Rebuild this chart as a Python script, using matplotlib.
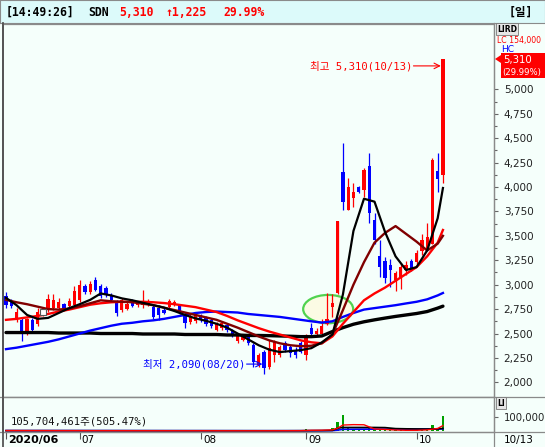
import matplotlib
matplotlib.use("Agg")
import matplotlib.pyplot as plt
from matplotlib.patches import Ellipse, Polygon, Rectangle
from matplotlib.lines import Line2D
import numpy as np

# ---- values ----
stock = "SDN"
clock = "14:49:26"
last_price = 5310
change = 1225
change_pct = 29.99
upper_limit_text = "LC 154,000"

# daily candles, 2020-06-11 .. 2020-10-13 (trading days)
opens = [2880, 2820, 2640, 2640, 2520, 2640, 2600, 2700, 2740, 2760, 2760, 2800, 2780, 2790,
         2840, 2990, 2920, 3050, 2990, 2970, 2890, 2820, 2740, 2750, 2830, 2790, 2790, 2800,
         2770, 2760, 2740, 2770, 2800, 2790, 2700, 2620, 2630,
         2680, 2660, 2640, 2540, 2560, 2590, 2530, 2420, 2430, 2470, 2380, 2180, 2310, 2160,
         2280, 2280, 2400, 2360, 2330, 2400,
         2280, 2560, 2500, 2500, 2600, 2770, 2910, 4150, 3760, 3890, 4000, 3970, 4210, 3660,
         3290, 3240, 3200, 3050, 3080, 3150, 3240,
         3230, 3340, 3370, 3420, 4160, 4120]
highs = [2920, 2850, 2760, 2660, 2660, 2660, 2760, 2760, 2900, 2900, 2860, 2810, 2860, 2990,
         3050, 3010, 3040, 3080, 3010, 2990, 2910, 2840, 2860, 2820, 2850, 2830, 2950, 2850,
         2790, 2790, 2760, 2850, 2840, 2800, 2720, 2700, 2710,
         2700, 2680, 2660, 2620, 2630, 2600, 2550, 2490, 2500, 2490, 2400, 2300, 2330, 2430,
         2430, 2380, 2420, 2380, 2360, 2420,
         2500, 2610, 2560, 2650, 2910, 2900, 3650, 4450, 4090, 4040, 4010, 4190, 4345, 3730,
         3460, 3280, 3260, 3140, 3220, 3240, 3260,
         3350, 3520, 3630, 4300, 4345, 5310]
lows = [2760, 2760, 2620, 2420, 2480, 2520, 2580, 2680, 2720, 2740, 2740, 2740, 2760, 2780,
        2820, 2900, 2900, 2940, 2860, 2870, 2830, 2680, 2720, 2740, 2770, 2770, 2760, 2780,
        2650, 2640, 2700, 2750, 2780, 2700, 2560, 2600, 2610,
        2620, 2580, 2560, 2530, 2540, 2520, 2460, 2400, 2420, 2380, 2160, 2160, 2090, 2140,
        2210, 2260, 2310, 2260, 2250, 2300,
        2230, 2470, 2480, 2480, 2590, 2670, 2900, 3760, 3760, 3800, 3940, 3900, 3630, 3420,
        3080, 3020, 2980, 2940, 2960, 3100, 3140,
        3200, 3300, 3350, 3420, 3950, 4040]
closes = [2790, 2780, 2720, 2500, 2650, 2540, 2720, 2740, 2850, 2840, 2820, 2760, 2830, 2940,
          3000, 2930, 3010, 2950, 2880, 2890, 2840, 2710, 2840, 2800, 2780, 2810, 2830, 2830,
          2670, 2690, 2710, 2830, 2820, 2720, 2610, 2680, 2690,
          2640, 2600, 2580, 2600, 2610, 2540, 2480, 2470, 2480, 2400, 2210, 2280, 2150, 2350,
          2410, 2360, 2330, 2300, 2280, 2310,
          2470, 2490, 2530, 2580, 2650, 2810, 3650, 3850, 4000, 3950, 3950, 4170, 3730, 3460,
          3180, 3070, 3150, 3120, 3180, 3200, 3150,
          3320, 3460, 3490, 4280, 4085, 5310]
# volume in thousand shares
volume_k = [3100, 2800, 2500, 3900, 2600, 2200, 2400, 2000, 3300, 2600, 2100, 1800, 2000, 3600,
            4200, 2700, 2900, 3100, 2400, 1900, 1800, 2300, 2100, 1700, 1600, 1500, 2600, 1700,
            2000, 1800, 1500, 1900, 1600, 1700, 2200, 1600, 1500,
            1500, 1600, 1700, 1400, 1300, 1500, 1900, 1800, 1600, 1700, 3200, 2400, 3500, 2900,
            2600, 1900, 1800, 1700, 1600, 1900,
            14000, 5000, 3500, 4500, 8000, 21000, 63000, 110000, 20000, 15000, 9000, 14000, 20000, 12000,
            9000, 7000, 6000, 5000, 5000, 4000, 4000,
            6000, 9000, 14000, 45000, 20912, 105704]
today_volume = 105704461
today_volume_ratio = 505.47

# moving averages, sampled every second candle
ma_idx = list(range(0, 83, 2)) + [83]
ma5 = [2865, 2790, 2690, 2650, 2660, 2710, 2760, 2800, 2845, 2910, 2890, 2860, 2840, 2815,
       2790, 2765, 2730, 2690, 2655, 2630, 2600, 2560, 2500, 2440, 2380, 2335, 2310, 2320,
       2330, 2350, 2410, 2490, 2900, 3550, 3880, 3850, 3540, 3290, 3150, 3180, 3350, 3680, 3990]
ma10 = [2845, 2820, 2800, 2775, 2750, 2745, 2755, 2780, 2810, 2840, 2830, 2825, 2820, 2805,
        2790, 2765, 2740, 2715, 2690, 2665, 2640, 2600, 2560, 2515, 2470, 2430, 2400, 2380,
        2370, 2375, 2400, 2490, 2740, 3000, 3230, 3430, 3530, 3600, 3520, 3440, 3350, 3420, 3500]
ma20 = [2640, 2650, 2665, 2680, 2700, 2725, 2745, 2770, 2795, 2810, 2820, 2825, 2825, 2825,
        2820, 2812, 2800, 2785, 2770, 2745, 2720, 2680, 2635, 2595, 2555, 2520, 2490, 2460,
        2430, 2410, 2400, 2470, 2600, 2720, 2840, 2910, 2970, 3040, 3110, 3180, 3290, 3430, 3560]
ma60 = [2340, 2355, 2375, 2395, 2415, 2440, 2470, 2500, 2530, 2555, 2580, 2600, 2610, 2625,
        2635, 2650, 2670, 2690, 2710, 2720, 2725, 2720, 2715, 2700, 2690, 2680, 2670, 2655,
        2640, 2625, 2612, 2625, 2670, 2710, 2745, 2760, 2775, 2790, 2808, 2825, 2850, 2890, 2915]
ma120 = [2510, 2510, 2510, 2510, 2510, 2505, 2505, 2505, 2505, 2500, 2500, 2500, 2500, 2495,
         2495, 2495, 2495, 2490, 2490, 2490, 2490, 2485, 2485, 2480, 2480, 2478, 2475, 2472,
         2468, 2468, 2475, 2520, 2560, 2595, 2620, 2640, 2658, 2675, 2690, 2705, 2725, 2760, 2780]

vol_ma_idx = [0, 10, 20, 30, 40, 50, 56, 58, 60, 62, 63, 64, 66, 68, 70, 72, 74, 76, 78, 80, 82, 83]
vol_ma5 = [3000, 2500, 2200, 2000, 1800, 1800, 2500, 5000, 5500, 8000, 20000, 42000, 45000,
           44000, 14000, 11000, 7000, 5000, 5000, 8000, 18000, 38000]
vol_ma20 = [2600, 2500, 2300, 2100, 2000, 1900, 2200, 2600, 3000, 4200, 20000, 25000, 25000,
            25000, 25000, 24000, 17000, 15500, 14500, 14000, 15000, 18000]
vol_ma60 = [2800, 2800, 2700, 2500, 2300, 2100, 2100, 2300, 2400, 2800, 6000, 12000, 12500,
            13000, 13000, 13000, 13000, 13000, 13000, 13500, 14000, 15000]

month_idx = [0, 14, 37, 57, 78]
month_lbl = ["2020/06", "07", "08", "09", "10"]
hi_date = "10/13"
lo_date = "08/20"
last_date = "10/13"
marker_idx, marker_val = 7, 2725
box_idx, box_val = 61.2, 2750   # green highlight ellipse

# ---- style ----
W, H = 545, 447
BG = "#f5fffb"
HDR = "#dcfafa"
RED = "#ff0000"
BLUE = "#0000ff"
BROWN = "#800000"
GRID = "#8a8a8a"
MONO = ["DejaVu Sans Mono", "Noto Sans CJK KR"]


def fbox(x0, y0, x1, y1):
    return [x0 / W, 1 - y1 / H, (x1 - x0) / W, (y1 - y0) / H]


def fpt(x, y):
    return x / W, 1 - y / H


fig = plt.figure(figsize=(W / 100, H / 100), dpi=100)
fig.patch.set_facecolor(BG)

# header bar
hdr = fig.add_axes(fbox(0, 0, W, 23))
hdr.set_facecolor(HDR)
hdr.set_xticks([])
hdr.set_yticks([])
for s in hdr.spines.values():
    s.set_color(GRID)
hdr_y = 12
fig.text(*fpt(6, hdr_y), f"[{clock}]", family=MONO, weight="bold", size=8.3, va="center")
fig.text(*fpt(88, hdr_y), stock, family=MONO, weight="bold", size=8.3, va="center")
fig.text(*fpt(119, hdr_y), f"{last_price:,}", family=MONO, weight="bold", size=8.3,
         va="center", color=RED)
fig.text(*fpt(166, hdr_y), f"\u2191{change:,}", family=MONO, weight="bold", size=8.3,
         va="center", color=RED)
fig.text(*fpt(223, hdr_y), f"{change_pct:.2f}%", family=MONO, weight="bold", size=8.3,
         va="center", color=RED)
fig.text(*fpt(509, hdr_y), "[일]", family=MONO, weight="bold", size=8.3, va="center")

# price panel
ax = fig.add_axes(fbox(3, 24, 494, 397))
ax.set_facecolor(BG)
ax.set_xlim(-0.57, 92.7)
ax.set_ylim(1850, 5669)

idx = np.arange(len(closes))
o, h, l, c = (np.array(v) for v in (opens, highs, lows, closes))
col = np.where(c >= o, RED, BLUE)
ax.vlines(idx, l, h, colors=col, lw=0.9, zorder=3)
body = np.where(np.abs(c - o) < 15, 15, c - o)
ax.bar(idx, body, bottom=o, width=0.62, color=col, zorder=3)

ax.add_patch(Ellipse((box_idx, box_val), 9.5, 290, facecolor="#fdfbe0", alpha=0.85,
                     edgecolor="#33cc33", lw=1.6, zorder=2))

ax.plot(ma_idx, ma120, color="black", lw=2.4, zorder=4, solid_capstyle="round")
ax.plot(ma_idx, ma60, color=BLUE, lw=1.7, zorder=4)
ax.plot(ma_idx, ma20, color=RED, lw=1.7, zorder=4)
ax.plot(ma_idx, ma10, color=BROWN, lw=1.7, zorder=4)
ax.plot(ma_idx, ma5, color="black", lw=1.6, zorder=5)
ax.plot([marker_idx], [marker_val], "s", mfc="white", mec="#555555", ms=5, mew=0.8, zorder=6)

hi_i = int(np.argmax(h))
lo_i = int(np.argmin(l))
hy = h[hi_i] - 70
ax.annotate("", xy=(hi_i - 0.4, hy), xytext=(hi_i - 5.6, hy),
            arrowprops=dict(arrowstyle="->", color=RED, lw=0.8, shrinkA=0, shrinkB=0), zorder=6)
ax.text(hi_i - 5.8, hy, f"최고 {h[hi_i]:,}({hi_date})", ha="right", va="center",
        color=RED, family=MONO, size=7.6, zorder=6)
ly = l[lo_i] + 97
ax.annotate("", xy=(lo_i - 0.3, ly), xytext=(lo_i - 3.3, ly),
            arrowprops=dict(arrowstyle="->", color=BLUE, lw=0.8, shrinkA=0, shrinkB=0), zorder=6)
ax.text(lo_i - 3.5, ly, f"최저 {l[lo_i]:,}({lo_date})", ha="right", va="center",
        color=BLUE, family=MONO, size=7.6, zorder=6)

ax.set_xticks([])
ax.yaxis.tick_right()
ax.set_yticks(range(2000, 5001, 250))
ax.set_yticks(range(2125, 5000, 250), minor=True)
ax.set_yticklabels([f"{v:,}" for v in range(2000, 5001, 250)])
ax.tick_params(axis="y", which="major", length=3, width=0.8, color="#666666",
               labelcolor="#222222", labelsize=7.5, pad=4)
ax.tick_params(axis="y", which="minor", length=2, width=0.8, color="#666666")
for s in ax.spines.values():
    s.set_color(GRID)
    s.set_linewidth(0.9)
ax.spines["left"].set_color("#555555")
ax.spines["left"].set_linewidth(1.3)

# right-hand labels of price panel
fig.text(*fpt(497, 29), "LIRD", size=5.5, weight="bold", va="center", family="DejaVu Sans",
         bbox=dict(boxstyle="square,pad=0.15", fc="#e6e6e6", ec="#777777", lw=0.6))
fig.text(*fpt(497, 41), upper_limit_text, size=5.6, color=RED, va="center", family="DejaVu Sans")
fig.text(*fpt(501, 50), "HC", size=6.5, color=BLUE, va="center", family="DejaVu Sans")
tag = fbox(501, 53, 545, 78)
fig.patches.append(Rectangle((tag[0], tag[1]), tag[2], tag[3], transform=fig.transFigure,
                             facecolor=RED, edgecolor="none", zorder=5))
fig.patches.append(Polygon([fpt(495, 59), fpt(501, 55), fpt(501, 63)], closed=True,
                           transform=fig.transFigure, facecolor=RED, edgecolor="none", zorder=5))
fig.text(*fpt(503, 60), f"{last_price:,}", size=7.3, color="white", va="center",
         family="DejaVu Sans", zorder=6)
fig.text(*fpt(502, 72), f"({change_pct:.2f}%)", size=6.1, color="white", va="center",
         family="DejaVu Sans", zorder=6)

# volume panel
axv = fig.add_axes(fbox(3, 397, 494, 432))
axv.set_facecolor(BG)
axv.set_xlim(-0.57, 92.7)
axv.set_ylim(-7000, 240000)
axv.bar(idx, volume_k, width=0.45, color="#00a000", zorder=3)
axv.plot(vol_ma_idx, vol_ma60, color=BLUE, lw=1.2, zorder=4)
axv.plot(vol_ma_idx, vol_ma20, color="black", lw=1.2, zorder=4)
axv.plot(vol_ma_idx, vol_ma5, color=RED, lw=1.0, zorder=4)
axv.text(0.015, 0.3, f"{today_volume:,}주({today_volume_ratio:.2f}%)", transform=axv.transAxes,
         family=MONO, size=7.6, va="center", color="#111111")
axv.yaxis.tick_right()
axv.set_yticks([100000])
axv.set_yticklabels(["100,000"])
axv.tick_params(axis="y", length=3, width=0.8, color="#666666", labelcolor="#222222",
                labelsize=7.3, pad=4)
axv.set_xticks(month_idx)
axv.set_xticklabels([])
axv.tick_params(axis="x", length=5, width=0.8, color="#555555", direction="out")
xt = axv.get_xaxis_transform()
for m, lbl in zip(month_idx, month_lbl):
    axv.text(m + 0.4, -0.23, lbl, transform=xt, va="center", ha="left", size=7.5 if m else 8,
             weight="normal" if m else "bold", family="DejaVu Sans", clip_on=False)
for s in axv.spines.values():
    s.set_color(GRID)
    s.set_linewidth(0.9)
axv.spines["left"].set_color("#555555")
axv.spines["left"].set_linewidth(1.3)

fig.text(*fpt(497, 403), "LI", size=5.5, weight="bold", va="center", family="DejaVu Sans",
         bbox=dict(boxstyle="square,pad=0.15", fc="#e6e6e6", ec="#777777", lw=0.6))
fig.text(*fpt(504, 440), last_date, size=7.5, va="center", family="DejaVu Sans")

# frame lines across the full width
for y in (397, 432):
    fig.lines.append(Line2D([0, 1], [1 - y / H] * 2, transform=fig.transFigure,
                            color=GRID, lw=0.9))
fig.lines.append(Line2D([494 / W] * 2, [0, 1 - 23 / H], transform=fig.transFigure,
                        color=GRID, lw=0.9))
fig.lines.append(Line2D([3 / W] * 2, [0, 1 - 23 / H], transform=fig.transFigure,
                        color="#555555", lw=1.3))

fig.savefig("out.png", dpi=100, facecolor=BG)
